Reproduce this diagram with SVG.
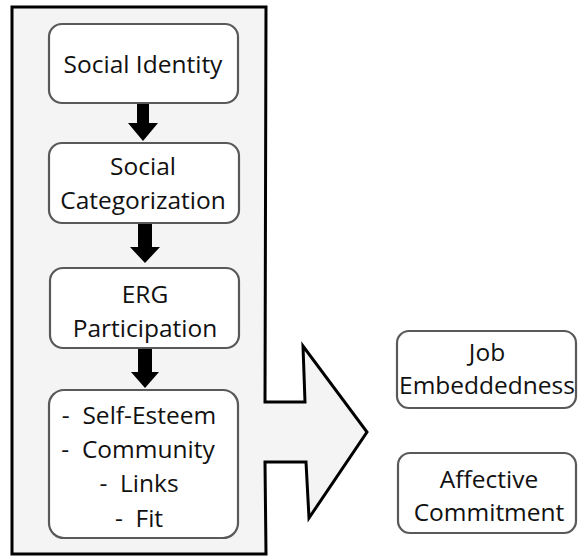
<svg xmlns="http://www.w3.org/2000/svg" width="578" height="557" viewBox="0 0 578 557">
  <style>
    .box { fill: #ffffff; stroke: #595959; stroke-width: 2.2; }
    .lbl { font-family: "Open Sans", "Noto Sans", sans-serif; font-size: 24.5px; fill: #111111; text-anchor: middle; }
    .step { fill: #000000; }
  </style>
  <rect width="578" height="557" fill="#ffffff"/>

  <!-- container panel merged with the right-pointing block arrow -->
  <path id="panel" d="M12,7 L266,7 L265,402 L305,402 L303,346 L367,432 L309,518 L306,462 L265,462 L266,554 L12,554 Z"
        fill="#f4f4f4" stroke="#000000" stroke-width="3" stroke-linejoin="miter"/>

  <g id="connectors">
    <path class="step" d="M137,103 L149,103 L149,123 L158,123 L143,141 L128,123 L137,123 Z"/>
    <path class="step" d="M138,223 L152,223 L152,247 L160,247 L145,263 L130,247 L138,247 Z"/>
    <path class="step" d="M138,348 L152,348 L152,372 L159,372 L145,388 L131,372 L138,372 Z"/>
  </g>

  <g id="social-identity">
    <rect class="box" x="49" y="24" width="189" height="79" rx="13"/>
    <text class="lbl" x="143" y="73">Social Identity</text>
  </g>

  <g id="social-categorization">
    <rect class="box" x="49" y="143" width="190" height="80" rx="13"/>
    <text class="lbl" x="143" y="175">Social</text>
    <text class="lbl" x="143" y="209">Categorization</text>
  </g>

  <g id="erg-participation">
    <rect class="box" x="50" y="268" width="189" height="80" rx="13"/>
    <text class="lbl" x="145" y="303">ERG</text>
    <text class="lbl" x="145" y="337">Participation</text>
  </g>

  <g id="outcomes">
    <rect class="box" x="49" y="390" width="189" height="148" rx="15"/>
    <text class="lbl" x="139" y="424" xml:space="preserve">-  Self-Esteem</text>
    <text class="lbl" x="138" y="458" xml:space="preserve">-  Community</text>
    <text class="lbl" x="139" y="492" xml:space="preserve">-  Links</text>
    <text class="lbl" x="139" y="527" xml:space="preserve">-  Fit</text>
  </g>

  <g id="job-embeddedness">
    <rect class="box" x="397" y="331" width="179" height="77" rx="12"/>
    <text class="lbl" x="487" y="361">Job</text>
    <text class="lbl" x="487" y="394">Embeddedness</text>
  </g>

  <g id="affective-commitment">
    <rect class="box" x="398" y="453" width="178" height="80" rx="12"/>
    <text class="lbl" x="489" y="488">Affective</text>
    <text class="lbl" x="489" y="521">Commitment</text>
  </g>
</svg>
